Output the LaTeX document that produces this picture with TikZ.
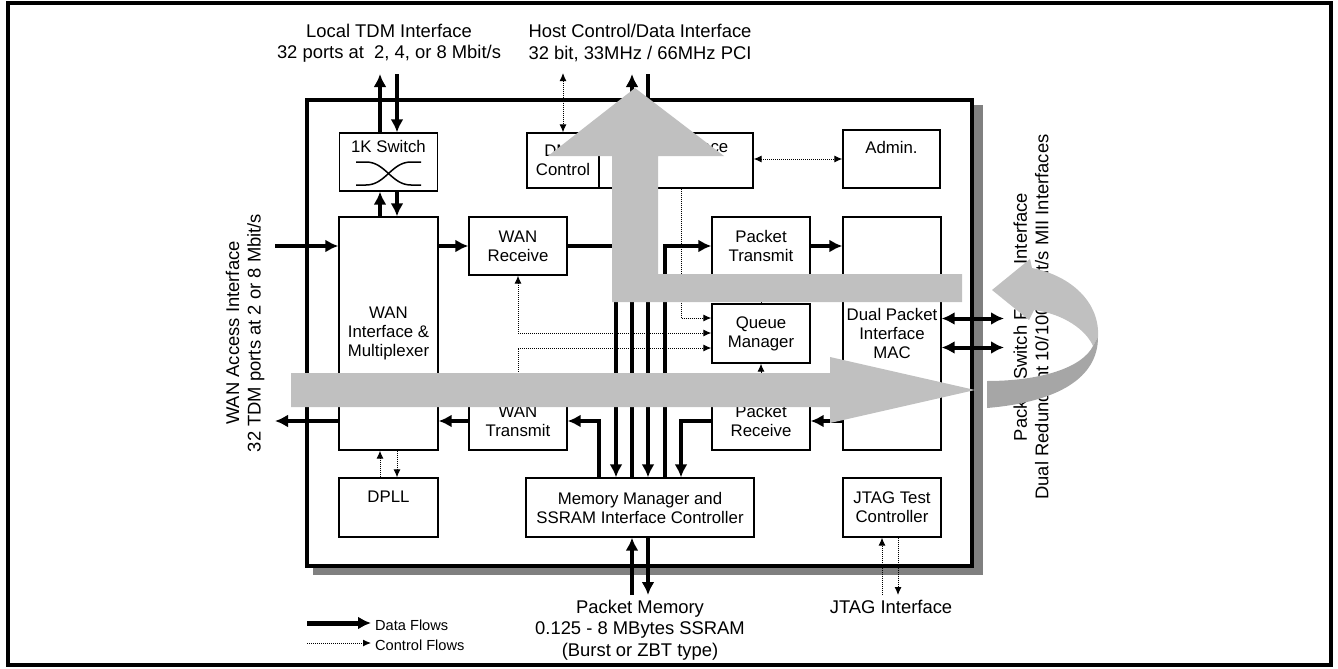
\documentclass[tikz,border=0pt]{standalone}
\usepackage{fontspec}
\setmainfont{Liberation Sans}
\usetikzlibrary{arrows.meta}
\definecolor{flowgray}{HTML}{C0C0C0}
\definecolor{twistgray}{HTML}{A6A6A6}
\definecolor{shadowgray}{HTML}{808080}
\newcommand{\boxfont}{\fontsize{16.8}{19}\selectfont}
\newcommand{\labfont}{\fontsize{18.4}{21.5}\selectfont}
\newcommand{\legfont}{\fontsize{14.6}{17}\selectfont}

\tikzset{
  blk/.style={draw, line width=1.3pt, fill=white, inner sep=0pt, align=center, font=\boxfont},
  smallblk/.style={blk, minimum width=98pt, minimum height=58pt},
  toptxt/.style={anchor=north, inner sep=0pt, font=\boxfont},
  extlab/.style={align=center, font=\labfont, inner sep=0pt},
  data/.style={line width=4pt, >={Latex[length=13pt,width=13pt]}},
  ctrl/.style={line width=1pt, dash pattern=on 1pt off 1pt, >={Latex[length=8pt,width=7pt]}},
}

\begin{document}
\begin{tikzpicture}[x=1pt, y=-1pt, >=Latex]
\useasboundingbox (0,0) rectangle (1338,669);

% Rahmen
\draw[line width=3.5pt] (8,3) rectangle (1331,665);

% Chip mit Schatten
\fill[shadowgray] (313,105) rectangle (983,575);
\node[draw, line width=4pt, fill=white, minimum width=665pt, minimum height=466pt] (chip) at (639.5,333) {};

% Bloecke
\node[smallblk, label={[toptxt, yshift=-8pt]north:1K Switch}] (sw) at (388.5,162) {};
\node[blk, minimum width=72pt, minimum height=55pt] (dma) at (563,160.5) {DMA\\Control};
\node[blk, minimum width=154pt, minimum height=55pt, label={[toptxt, yshift=-8pt]north:Host Interface}] (host) at (676,160.5) {};
\node[blk, minimum width=97pt, minimum height=58pt, label={[toptxt, yshift=-12pt]north:Admin.}] (adm) at (891.5,159) {};
\node[blk, minimum width=99pt, minimum height=233pt] (wanif) at (388.5,333.5) {WAN\\Interface \&\\Multiplexer};
\node[smallblk] (wanrx) at (518,246) {WAN\\Receive};
\node[smallblk] (wantx) at (518,421) {WAN\\Transmit};
\node[smallblk] (ptx) at (761,246) {Packet\\Transmit};
\node[smallblk, minimum height=59pt] (qm) at (761,333.5) {Queue\\Manager};
\node[smallblk] (prx) at (761,421) {Packet\\Receive};
\node[blk, minimum width=98pt, minimum height=233pt] (mac) at (892,333.5) {Dual Packet\\Interface\\MAC};
\node[blk, minimum width=99pt, minimum height=59pt, label={[toptxt, yshift=-13pt]north:DPLL}] (dpll) at (388.5,507.5) {};
\node[blk, minimum width=228pt, minimum height=59pt] (mem) at (640,507.5) {Memory Manager and\\SSRAM Interface Controller};
\node[smallblk, minimum height=59pt] (jtag) at (892,507.5) {JTAG Test\\Controller};

% Koppelfeld-Symbol
\draw[line width=1.5pt] (356,185) -- (366,185) to[out=0, in=180] (411,162) -- (421,162);
\draw[line width=1.5pt] (356,162) -- (366,162) to[out=0, in=180] (411,185) -- (421,185);

% Beschriftungen aussen
\node[extlab] (tdmlab) at (389,43) {Local TDM Interface\\32 ports at \ 2, 4, or 8 Mbit/s};
\node[extlab] (hostlab) at (640,43) {Host Control/Data Interface\\32 bit, 33MHz / 66MHz PCI};
\node[extlab, rotate=90] (wanlab) at (245,333) {WAN Access Interface\\32 TDM ports at 2 or 8 Mbit/s};
\node[extlab, rotate=90] (fablab) at (1031,317) {Packet Switch Fabric Interface\\Dual Redundant 10/100 Mbit/s MII Interfaces};
\node[extlab] (memlab) at (640,630) {Packet Memory\\0.125 - 8 MBytes SSRAM\\(Burst or ZBT type)};
\node[extlab] (jtaglab) at (891,607) {JTAG Interface};

% freie Enden
\coordinate (tdmio) at (388.5,74);
\coordinate (hostio) at (640,74);
\coordinate (dmaio) at (563,73);
\coordinate (wanin) at (275,246);
\coordinate (wanout) at (275,421);
\coordinate (fabio) at (1004,333);
\coordinate (memio) at (640,595);
\coordinate (jtagio) at (892,595);

% Datenfluesse
\draw[data,->] ([xshift=-8.5pt]sw.north) -- ([xshift=-8.5pt]sw.north |- tdmio);
\draw[data,->] ([xshift=8.5pt]sw.north |- tdmio) -- ([xshift=8.5pt]sw.north);
\draw[data,->] ([xshift=-8.5pt]wanif.north) -- ([xshift=-8.5pt]sw.south);
\draw[data,->] ([xshift=8.5pt]sw.south) -- ([xshift=8.5pt]wanif.north);
\draw[data,->] (wanin) -- (wanif.west |- wanin);
\draw[data,->] (wanif.west |- wanout) -- (wanout);
\draw[data,->] (wanif.east |- wanrx) -- (wanrx);
\draw[data,->] (wantx) -- (wanif.east |- wantx);
\draw[data,->] (wanrx) -| ([xshift=-24pt]mem.north);
\draw[data,->] ([xshift=25pt]mem.north) |- (ptx);
\draw[data,->] ([xshift=-8pt]mem.north) -- ([xshift=-8pt]mem.north |- hostio);
\draw[data,->] ([xshift=8pt]mem.north |- hostio) -- ([xshift=8pt]mem.north);
\draw[data,->] ([xshift=-41pt]mem.north) |- (wantx);
\draw[data,->] (prx) -| ([xshift=41pt]mem.north);
\draw[data,->] (ptx) -- (mac.west |- ptx);
\draw[data,->] (mac.west |- prx) -- (prx);
\draw[data,<->] ([yshift=15pt]mac.east) -- ([yshift=15pt]mac.east -| fabio);
\draw[data,<->] ([yshift=-14pt]mac.east) -- ([yshift=-14pt]mac.east -| fabio);
\draw[data,->] ([xshift=-8pt]mem.south |- memio) -- ([xshift=-8pt]mem.south);
\draw[data,->] ([xshift=8pt]mem.south) -- ([xshift=8pt]mem.south |- memio);

% Steuerfluesse
\draw[ctrl,<->] (dmaio) -- (dma);
\draw[ctrl,<->] (host.east |- adm) -- (adm);
\draw[ctrl,->] ([xshift=5pt]host.south) |- ([yshift=15.5pt]qm.west);
\draw[ctrl,<->] (wanrx) |- ([yshift=0.5pt]qm.west);
\draw[ctrl,<->] (wantx) |- ([yshift=-14.5pt]qm.west);
\draw[ctrl,->] (prx) -- (qm);
\draw[ctrl,->] (qm) -- (ptx);
\draw[ctrl,->] ([xshift=-8.5pt]dpll.north) -- ([xshift=-8.5pt]wanif.south);
\draw[ctrl,->] ([xshift=8.5pt]wanif.south) -- ([xshift=8.5pt]dpll.north);
\draw[ctrl,->] ([xshift=-10pt]jtag.south |- jtagio) -- ([xshift=-10pt]jtag.south);
\draw[ctrl,->] ([xshift=6pt]jtag.south) -- ([xshift=6pt]jtag.south |- jtagio);

% Legende
\coordinate (legdata) at (307,623);
\coordinate (legctrl) at (307,643);
\node[anchor=west, font=\legfont, inner sep=0pt] (legdatat) at (375,625) {Data Flows};
\node[anchor=west, font=\legfont, inner sep=0pt] (legctrlt) at (375,645) {Control Flows};
\draw[data, line width=5pt, ->] (legdata) -- ([xshift=-4pt]legdatat.west |- legdata);
\draw[ctrl,->] (legctrl) -- ([xshift=-4pt]legctrlt.west |- legctrl);

% grosse graue Pfeile
\fill[flowgray] (291,373) -- (830,373) -- (830,357) -- (975,390) -- (830,423) -- (830,407) -- (291,407) -- cycle;
\fill[flowgray] (612,302) -- (612,156) -- (548,156) -- (635,88) -- (724,156) -- (658,156) -- (658,274) -- (962,274) -- (962,302) -- cycle;
\fill[flowgray] (992,290) -- (1030,259) -- (1032,268) .. controls (1072,276) and (1100,303) .. (1098,337)
  -- (1093,346) .. controls (1086,330) and (1064,314) .. (1034,310) -- (1029,320) -- cycle;
\fill[twistgray] (1098,337) .. controls (1098,378) and (1058,402) .. (987,408)
  -- (987,381) .. controls (1040,381) and (1082,368) .. (1093,346) -- cycle;

\end{tikzpicture}
\end{document}
